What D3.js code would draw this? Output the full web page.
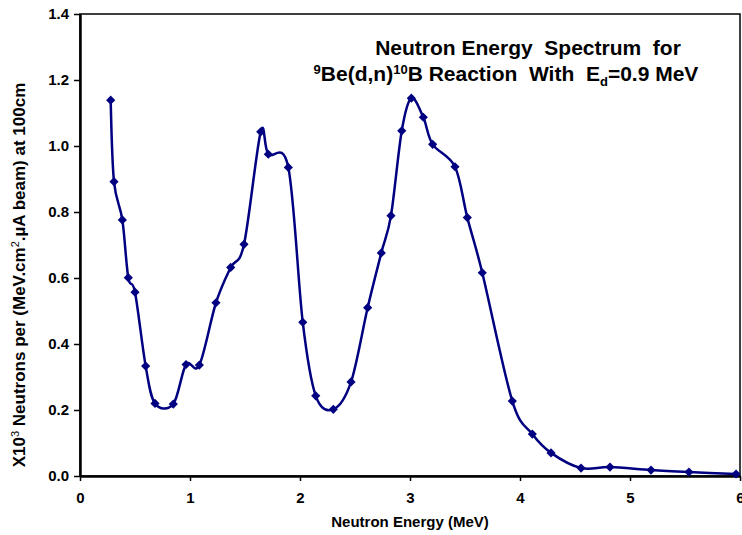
<!DOCTYPE html>
<html>
<head>
<meta charset="utf-8">
<script src="https://cdn.jsdelivr.net/npm/d3@7"></script>
<style>
  body { margin: 0; background: #fff; }
  text { font-family: "Liberation Sans", Arial, sans-serif; font-weight: bold; fill: #000; }
  .pre { white-space: pre; }
</style>
</head>
<body>
<div id="graph"></div>
<script>
// Neutron energy (MeV) and yield
let energy = [ 0.279, 0.309, 0.385, 0.439, 0.500, 0.597, 0.682, 0.848, 0.964, 1.085,
               1.236, 1.370, 1.491, 1.643, 1.712, 1.894, 2.025, 2.143, 2.303, 2.464,
               2.615, 2.739, 2.827, 2.925, 3.012, 3.121, 3.206, 3.409, 3.521, 3.657,
               3.930, 4.112, 4.282, 4.555, 4.818, 5.191, 5.536, 5.964 ];
let yieldValues = [ 1.139, 0.892, 0.776, 0.601, 0.557, 0.333, 0.220, 0.218, 0.338, 0.336,
                    0.525, 0.632, 0.702, 1.043, 0.975, 0.935, 0.466, 0.243, 0.202, 0.285,
                    0.510, 0.676, 0.789, 1.046, 1.145, 1.087, 1.005, 0.937, 0.783, 0.616,
                    0.227, 0.127, 0.070, 0.024, 0.027, 0.018, 0.012, 0.006 ];
let xTicks = [ 0, 1, 2, 3, 4, 5, 6 ];
let yTicks = [ 0, 0.2, 0.4, 0.6, 0.8, 1.0, 1.2, 1.4 ];

let options = {
  width: 742,
  height: 535,
  color: "#000080",
  margins: { top: 14, right: 2, left: 80, bottom: 59 }
}

let data = energy.map( ( e, i ) => ({ x: e, y: yieldValues[i] }) );

function renderGraph() {
  let m = options.margins;
  let w = options.width - m.left - m.right;
  let h = options.height - m.top - m.bottom;

  let svg = d3.select( "#graph" )
              .append( "svg" )
              .attr( "width", options.width )
              .attr( "height", options.height );

  let xScale = d3.scaleLinear().domain( [ 0, 6 ] ).range( [ m.left, m.left + w ] );
  let yScale = d3.scaleLinear().domain( [ 0, 1.4 ] ).range( [ m.top + h, m.top ] );

  // plot area frame (top/right)
  svg.append( "rect" )
     .attr( "x", m.left )
     .attr( "y", m.top )
     .attr( "width", w )
     .attr( "height", h )
     .attr( "fill", "none" )
     .attr( "stroke", "#000" )
     .attr( "stroke-width", 1.5 );

  // axes
  let xAxis = svg.append( "g" )
                 .attr( "transform", `translate(0,${ m.top + h })` )
                 .call( d3.axisBottom( xScale ).tickValues( xTicks ).tickFormat( d3.format( "d" ) ).tickSize( 5 ).tickSizeOuter( 0 ) );

  let yAxis = svg.append( "g" )
                 .attr( "transform", `translate(${ m.left },0)` )
                 .call( d3.axisLeft( yScale ).tickValues( yTicks ).tickFormat( d3.format( ".1f" ) ).tickSize( 6 ).tickSizeOuter( 0 ) );

  [ xAxis, yAxis ].forEach( a => {
    a.select( ".domain" ).attr( "stroke", "#000" ).attr( "stroke-width", 2.5 );
    a.selectAll( ".tick line" ).attr( "stroke", "#000" ).attr( "stroke-width", 1.5 );
    a.selectAll( "text" ).style( "font-size", "15px" ).style( "font-family", "'Liberation Sans', Arial, sans-serif" ).style( "font-weight", "bold" );
  });
  xAxis.selectAll( "text" ).attr( "dy", "1.05em" ).attr( "y", 11 );
  yAxis.selectAll( "text" ).attr( "x", -11 );

  // axis titles
  svg.append( "text" )
     .attr( "x", 410 )
     .attr( "y", 527 )
     .attr( "text-anchor", "middle" )
     .style( "font-size", "15px" )
     .text( "Neutron Energy (MeV)" );

  let yLabel = svg.append( "text" )
                  .attr( "transform", "translate(25,275) rotate(-90)" )
                  .attr( "text-anchor", "middle" )
                  .style( "font-size", "17px" );
  yLabel.append( "tspan" ).text( "X10" );
  yLabel.append( "tspan" ).attr( "dy", -6 ).style( "font-size", "11px" ).style( "font-weight", "normal" ).text( "3" );
  yLabel.append( "tspan" ).attr( "dy", 6 ).text( " Neutrons per (MeV.cm" );
  yLabel.append( "tspan" ).attr( "dy", -6 ).style( "font-size", "11px" ).style( "font-weight", "normal" ).text( "2" );
  yLabel.append( "tspan" ).attr( "dy", 6 ).text( ".µA beam) at 100cm" );

  // chart title
  let title = svg.append( "g" ).attr( "id", "title" );
  title.append( "text" )
       .classed( "pre", true )
       .attr( "x", 528 )
       .attr( "y", 55 )
       .attr( "text-anchor", "middle" )
       .style( "font-size", "21px" )
       .text( "Neutron Energy  Spectrum  for" );

  let t2 = title.append( "text" )
                .classed( "pre", true )
                .attr( "x", 506 )
                .attr( "y", 81 )
                .attr( "text-anchor", "middle" )
                .style( "font-size", "21px" );
  t2.append( "tspan" ).attr( "dy", -7 ).style( "font-size", "13px" ).text( "9" );
  t2.append( "tspan" ).attr( "dy", 7 ).text( "Be(d,n)" );
  t2.append( "tspan" ).attr( "dy", -7 ).style( "font-size", "13px" ).text( "10" );
  t2.append( "tspan" ).attr( "dy", 7 ).text( "B Reaction  With  E" );
  t2.append( "tspan" ).attr( "dy", 5 ).style( "font-size", "13px" ).text( "d" );
  t2.append( "tspan" ).attr( "dy", -5 ).text( "=0.9 MeV" );

  // smoothed series line
  let line = d3.line()
               .x( d => xScale( d.x ) )
               .y( d => yScale( d.y ) )
               .curve( d3.curveCardinal.tension( 0 ) );

  svg.append( "path" )
     .datum( data )
     .attr( "d", line )
     .attr( "fill", "none" )
     .attr( "stroke", options.color )
     .attr( "stroke-width", 2.5 );

  // diamond markers
  svg.selectAll( ".dot" )
     .data( data )
     .enter()
     .append( "path" )
     .classed( "dot", true )
     .attr( "d", d3.symbol( d3.symbolSquare, 42 ) )
     .attr( "transform", d => `translate(${ xScale( d.x ) },${ yScale( d.y ) }) rotate(45)` )
     .attr( "fill", options.color );
}

renderGraph();
</script>
</body>
</html>
